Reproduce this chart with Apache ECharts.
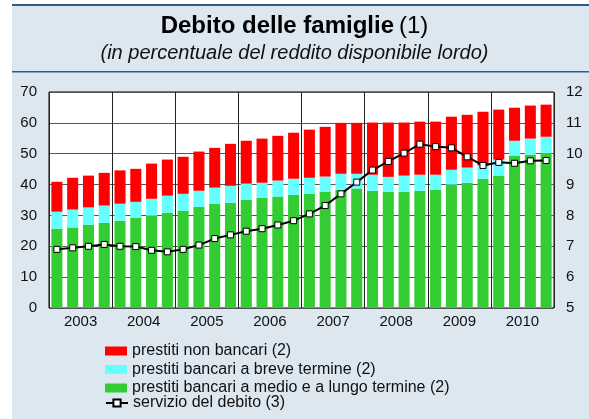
<!DOCTYPE html>
<html>
<head>
<meta charset="utf-8">
<script src="https://cdn.jsdelivr.net/npm/echarts@6/dist/echarts.min.js"></script>
<style>
  html, body { margin: 0; padding: 0; background: #fff; }
  #chart { width: 589px; height: 419px; }
</style>
</head>
<body>
<div id="chart"></div>
<script>
// trimestri 2003-2010
const years = ['2003', '2004', '2005', '2006', '2007', '2008', '2009', '2010'];
const quarters = [];
years.forEach(y => {
  for (let q = 1; q <= 4; q++) quarters.push(y + 'Q' + q);
});

// prestiti bancari a medio e a lungo termine
const mediumLong = [25.7, 26.1, 27.0, 27.6, 28.3, 29.3, 29.9, 30.9,
  31.5, 32.8, 33.8, 34.1, 35.1, 35.7, 36.1, 36.7,
  37.0, 37.7, 38.3, 38.7, 38.0, 37.7, 37.7, 38.0,
  38.3, 40.0, 40.6, 41.9, 42.9, 49.4, 49.7, 50.3];
// prestiti bancari a breve termine
const shortTerm = [5.5, 5.8, 5.6, 5.6, 5.5, 5.1, 5.5, 5.5,
  5.5, 5.2, 5.2, 5.5, 5.2, 4.9, 5.2, 5.2,
  5.2, 4.9, 5.2, 4.8, 5.2, 4.8, 5.2, 5.2,
  4.9, 4.8, 4.9, 4.3, 5.2, 4.8, 5.2, 5.2];
// prestiti non bancari
const nonBank = [9.7, 10.3, 10.3, 10.6, 10.8, 10.7, 11.4, 11.7,
  12.0, 12.7, 12.9, 13.6, 13.9, 14.3, 14.5, 14.9,
  15.6, 16.1, 16.5, 16.5, 16.9, 17.6, 17.2, 17.2,
  17.2, 17.2, 17.1, 17.4, 16.2, 10.7, 10.7, 10.4];
// servizio del debito (scala destra)
const debtService = [6.90, 6.95, 7.00, 7.06, 7.00, 6.99, 6.87, 6.82,
  6.90, 7.04, 7.25, 7.37, 7.49, 7.57, 7.69, 7.83,
  8.05, 8.32, 8.70, 9.08, 9.47, 9.75, 10.02, 10.31,
  10.23, 10.19, 9.90, 9.62, 9.72, 9.69, 9.77, 9.78];

const FONT = '"Liberation Sans", Arial, sans-serif';
const names = {
  red: 'prestiti non bancari (2)',
  cyan: 'prestiti bancari a breve termine (2)',
  green: 'prestiti bancari a medio e a lungo termine (2)',
  line: 'servizio del debito (3)'
};

const legendText = { fontFamily: FONT, fontSize: 16, color: '#111', lineHeight: 16 };

const chart = echarts.init(document.getElementById('chart'));

chart.setOption({
  animation: false,
  backgroundColor: '#fff',
  textStyle: { fontFamily: FONT },
  graphic: [
    { type: 'rect', z: -10, shape: { x: 12, y: 5, width: 577, height: 414 }, style: { fill: '#dce7f0' } },
    { type: 'rect', z: -9, shape: { x: 12, y: 4, width: 577, height: 2 }, style: { fill: '#2b5f86' } },
    { type: 'rect', z: -9, shape: { x: 12, y: 71, width: 577, height: 1.5 }, style: { fill: '#2b5f86' } }
  ],
  title: {
    left: 'center',
    top: 14,
    padding: 0,
    text: '{b|Debito delle famiglie} {n|(1)}',
    textStyle: {
      rich: {
        b: { fontFamily: FONT, fontSize: 24, fontWeight: 'bold', color: '#000', lineHeight: 24 },
        n: { fontFamily: FONT, fontSize: 24, fontWeight: 'normal', color: '#000', lineHeight: 24 }
      }
    },
    subtext: '(in percentuale del reddito disponibile lordo)',
    subtextStyle: { fontFamily: FONT, fontSize: 20, fontStyle: 'italic', color: '#111', lineHeight: 20 },
    itemGap: 5
  },
  legend: [
    {
      orient: 'vertical',
      left: 105,
      top: 343,
      padding: 0,
      itemWidth: 22,
      itemHeight: 9,
      itemGap: 2.5,
      textStyle: legendText,
      data: [
        { name: names.red, icon: 'rect' },
        { name: names.cyan, icon: 'rect' },
        { name: names.green, icon: 'rect' }
      ]
    },
    {
      orient: 'vertical',
      left: 105,
      top: 395,
      padding: 0,
      itemWidth: 22,
      itemHeight: 9,
      textStyle: legendText,
      data: [names.line]
    }
  ],
  grid: {
    left: 49, right: 35, top: 92, bottom: 111,
    show: true, backgroundColor: '#fff', borderColor: '#000', borderWidth: 1
  },
  xAxis: [
    {
      type: 'category', data: quarters,
      axisLabel: { show: false }, axisTick: { show: false }, axisLine: { show: false },
      splitLine: { show: false }
    },
    {
      type: 'category', data: years, position: 'bottom',
      axisLine: { show: false }, axisTick: { show: false },
      axisLabel: { fontFamily: FONT, fontSize: 15, color: '#111', margin: 6 },
      splitLine: { show: true, lineStyle: { color: '#222', width: 1 } }
    }
  ],
  yAxis: [
    {
      type: 'value', min: 0, max: 70, interval: 10,
      axisLine: { show: false }, axisTick: { show: false },
      axisLabel: { fontFamily: FONT, fontSize: 15, color: '#111', margin: 12 },
      splitLine: { show: true, lineStyle: { color: '#555', width: 1 } }
    },
    {
      type: 'value', min: 5, max: 12, interval: 1, position: 'right',
      axisLine: { show: false }, axisTick: { show: false },
      axisLabel: { fontFamily: FONT, fontSize: 15, color: '#111', margin: 12 },
      splitLine: { show: false }
    }
  ],
  series: [
    {
      name: names.green, type: 'bar', stack: 'debito', data: mediumLong,
      barCategoryGap: '30%', itemStyle: { color: '#33cc33' }
    },
    {
      name: names.cyan, type: 'bar', stack: 'debito', data: shortTerm,
      barCategoryGap: '30%', itemStyle: { color: '#66ffff' }
    },
    {
      name: names.red, type: 'bar', stack: 'debito', data: nonBank,
      barCategoryGap: '30%', itemStyle: { color: '#ff0000' }
    },
    {
      name: names.line, type: 'line', yAxisIndex: 1, data: debtService,
      symbol: 'rect', symbolSize: 6, showAllSymbol: true, z: 5,
      lineStyle: { color: '#000', width: 2 },
      itemStyle: { color: '#fff', borderColor: '#000', borderWidth: 1 }
    }
  ]
});
</script>
</body>
</html>
